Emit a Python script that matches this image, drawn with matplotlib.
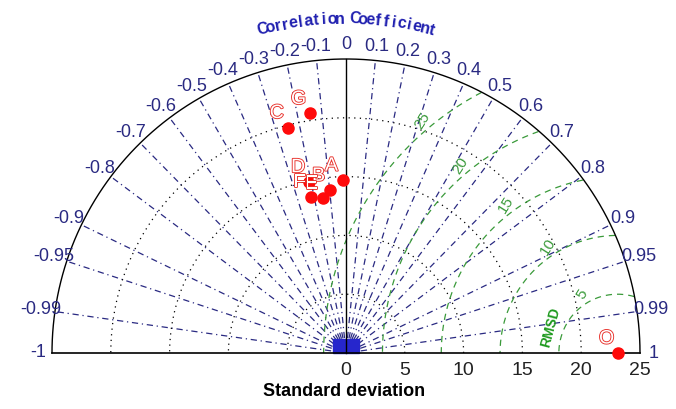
import numpy as np
import matplotlib.pyplot as plt
from matplotlib import patheffects
from matplotlib.patches import Rectangle

# observation and model statistics (std, correlation)
obs_name = 'O'
obs_std = 23.1
model_names = ['A', 'B', 'C', 'D', 'E', 'F', 'G']
model_std = [14.7, 13.9, 19.8, 14.9, 13.3, 13.6, 20.6]
model_corr = [-0.02, -0.10, -0.25, -0.21, -0.15, -0.22, -0.15]

corr_pos = [0.1, 0.2, 0.3, 0.4, 0.5, 0.6, 0.7, 0.8, 0.9, 0.95, 0.99]
std_ticks = [0, 5, 10, 15, 20, 25]
std_circles = [5, 10, 15, 20]
rmsd_levels = [5, 10, 15, 20, 25]
rmsd_label_ang = [121, 123, 127, 130, 130]
std_max = 25

px = 11.76  # pixels per std unit
fig = plt.figure(figsize=(6.76, 4.09), dpi=100)
ax = fig.add_axes([0, 0, 1, 1])
ax.set_xlim(-346 / px, 330 / px)
ax.set_ylim(-56 / px, 353 / px)
ax.axis('off')

navy = '#2a2a82'
green = '#3a9a3a'
font = 'Liberation Sans'

# correlation spokes
all_corr = sorted([-c for c in corr_pos] + corr_pos)
for c in all_corr:
    th = np.arccos(c)
    ax.plot([0, std_max * np.cos(th)], [0, std_max * np.sin(th)],
            ls=(0, (5, 3, 1, 3)), color=navy, lw=0.9, zorder=1)

# std circles
t = np.linspace(0, np.pi, 500)
for s in std_circles:
    ax.plot(s * np.cos(t), s * np.sin(t), ls=(0, (1, 3.5)), color='k', lw=0.9, zorder=1)

# rmsd circles around observation
for rr, ang in zip(rmsd_levels, rmsd_label_ang):
    x = obs_std + rr * np.cos(t)
    y = rr * np.sin(t)
    x = np.where(x**2 + y**2 <= std_max**2, x, np.nan)
    ax.plot(x, y, ls=(0, (5, 4)), color=green, lw=0.9, zorder=2)
    a = np.radians(ang)
    ax.text(obs_std + (rr + 0.8) * np.cos(a), (rr + 0.8) * np.sin(a), str(rr),
            color=green, fontsize=11, rotation=58, ha='center', va='center',
            family=font, zorder=3)
a = np.radians(159)
ax.text(obs_std + 6.1 * np.cos(a), 6.1 * np.sin(a), 'RMSD', color='#1f9a1f',
        fontsize=10, fontweight='bold', rotation=75, ha='center', va='center',
        family=font, zorder=3)

# frame
ax.plot(std_max * np.cos(t), std_max * np.sin(t), color='k', lw=1, zorder=4)
ax.plot([-std_max, std_max], [0, 0], color='k', lw=1.2, zorder=4)
ax.plot([0, 0], [0, std_max], color='k', lw=1, zorder=4)
ax.add_patch(Rectangle((-1.1, 0), 2.2, 1.2, color='#2626cc', zorder=3))

# correlation labels
for c in [-1] + all_corr + [0, 1]:
    th = np.arccos(c)
    ax.text(26.2 * np.cos(th), 26.2 * np.sin(th), f'{c:g}', color=navy,
            fontsize=13, ha='center', va='center', family=font, zorder=5)

title = 'Correlation Coefficient'
for ch, ang in zip(title, np.linspace(104.5, 75.1, len(title))):
    a = np.radians(ang)
    ax.text(28.4 * np.cos(a), 28.4 * np.sin(a), ch, color='#2020b0', fontsize=11.5,
            fontweight='bold', rotation=ang - 90, ha='center', va='center',
            family=font)

# std tick labels
for s in std_ticks:
    ax.text(s, -1.45, str(s), color='#222222', fontsize=14, ha='center',
            va='center', family=font)
ax.text(-0.2, -3.3, 'Standard deviation', fontsize=13, fontweight='bold',
        ha='center', va='center', family=font)

# points
hollow = [patheffects.Stroke(linewidth=1.3, foreground='#e8302a'), patheffects.Normal()]
names = model_names + [obs_name]
stds = np.array(model_std + [obs_std])
corrs = np.array(model_corr + [1.0])
xs = stds * corrs
ys = stds * np.sqrt(1 - corrs**2)
ax.plot(xs, ys, 'o', color='#ff0a0a', ms=8, zorder=6)
for n, x, y in zip(names, xs, ys):
    ax.text(x - 0.94, y + 1.19, n, color='white', fontsize=14, ha='center',
            va='center', family=font, path_effects=hollow, zorder=7)

fig.savefig('out.png', dpi=100, facecolor='white')
